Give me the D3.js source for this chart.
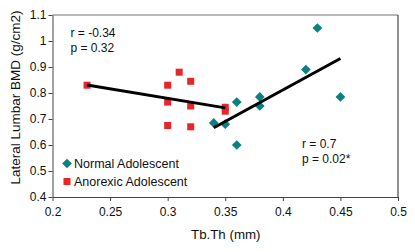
<!DOCTYPE html>
<html>
<head>
<meta charset="utf-8">
<script src="https://cdn.jsdelivr.net/npm/d3@7"></script>
<style>
  body { margin: 0; background: #fff; }
  text { font-family: "Liberation Sans", Arial, sans-serif; fill: #111; }
</style>
</head>
<body>
<div id="chart"></div>
<script>
// Normal adolescents (teal diamonds)
var normalTbTh = [0.43, 0.42, 0.45, 0.38, 0.38, 0.36, 0.34, 0.35, 0.36]
var normalBMD  = [1.05, 0.89, 0.785, 0.785, 0.75, 0.765, 0.685, 0.68, 0.60]

// Anorexic adolescents (red squares)
var anorexicTbTh = [0.23, 0.30, 0.31, 0.32, 0.30, 0.32, 0.30, 0.32, 0.35, 0.35]
var anorexicBMD  = [0.83, 0.83, 0.88, 0.845, 0.765, 0.75, 0.675, 0.67, 0.745, 0.73]

var xTicks = [0.2, 0.25, 0.3, 0.35, 0.4, 0.45, 0.5]
var yTicks = [0.4, 0.5, 0.6, 0.7, 0.8, 0.9, 1, 1.1]

var seriesNames = ["Normal Adolescent", "Anorexic Adolescent"]
var statsNormal = ["r = 0.7", "p = 0.02*"]
var statsAnorexic = ["r = -0.34", "p = 0.32"]

// dimensions
var margin = {top: 15, right: 17, bottom: 55, left: 52.5},
    width = 415 - margin.left - margin.right,
    height = 252 - margin.top - margin.bottom;

var svg = d3.select("#chart")
  .append("svg")
    .attr("width", 415)
    .attr("height", 252)
  .append("g")
    .attr("transform", "translate(" + margin.left + "," + margin.top + ")");

var x = d3.scaleLinear().domain([0.2, 0.5]).range([0, width]);
var y = d3.scaleLinear().domain([0.4, 1.1]).range([height, 0]);

// plot frame: top grey, right dark
svg.append("line")
  .attr("x1", 0).attr("x2", width).attr("y1", 0).attr("y2", 0)
  .style("stroke", "#a0a0a0").style("stroke-width", 1.5);
svg.append("line")
  .attr("x1", width).attr("x2", width).attr("y1", 0).attr("y2", height)
  .style("stroke", "#222").style("stroke-width", 1);

// X axis
var xAxis = svg.append("g")
  .attr("transform", "translate(0," + height + ")")
  .call(d3.axisBottom(x).tickValues(xTicks).tickSize(4).tickSizeOuter(0)
    .tickFormat(function(d) { return d3.format("")(+d.toFixed(2)); }));
xAxis.select(".domain").style("stroke", "#444");
xAxis.selectAll(".tick line").style("stroke", "#444");
xAxis.selectAll("text")
  .attr("y", 10).attr("dy", "0.71em")
  .style("font-size", "12px").style("font-family", "Liberation Sans, Arial, sans-serif");

// Y axis
var yAxis = svg.append("g")
  .call(d3.axisLeft(y).tickValues(yTicks).tickSize(4).tickSizeOuter(0)
    .tickFormat(function(d) { return d3.format("")(+d.toFixed(1)); }));
yAxis.select(".domain").style("stroke", "#444");
yAxis.selectAll(".tick line").style("stroke", "#444");
yAxis.selectAll("text")
  .attr("x", -6)
  .style("font-size", "12px").style("font-family", "Liberation Sans, Arial, sans-serif");

// axis titles
svg.append("text")
  .attr("x", x(0.35) + 0.5)
  .attr("y", height + 42)
  .attr("text-anchor", "middle")
  .style("font-size", "13.3px")
  .text("Tb.Th (mm)");

svg.append("text")
  .attr("transform", "translate(-32.5,82.5)rotate(-90)")
  .attr("text-anchor", "middle")
  .style("font-size", "13.5px")
  .text("Lateral Lumbar BMD (g/cm2)");

// least squares trend line over the data range
function trend(xs, ys) {
  var mx = d3.mean(xs), my = d3.mean(ys);
  var sxy = d3.sum(xs, function(v, i) { return (v - mx) * (ys[i] - my); });
  var sxx = d3.sum(xs, function(v) { return (v - mx) * (v - mx); });
  var b = sxy / sxx, a = my - b * mx;
  var ext = d3.extent(xs);
  return ext.map(function(v) { return [v, a + b * v]; });
}

var line = d3.line()
  .x(function(d) { return x(d[0]); })
  .y(function(d) { return y(d[1]); });

// Anorexic points
svg.selectAll("anorexicpt")
  .data(d3.range(anorexicTbTh.length))
  .enter()
  .append("rect")
    .attr("x", function(i) { return x(anorexicTbTh[i]) - 3.5; })
    .attr("y", function(i) { return y(anorexicBMD[i]) - 3.5; })
    .attr("width", 7)
    .attr("height", 7)
    .attr("fill", "#e8262a");

// Normal points
svg.selectAll("normalpt")
  .data(d3.range(normalTbTh.length))
  .enter()
  .append("path")
    .attr("d", d3.symbol().type(d3.symbolDiamond2).size(60))
    .attr("transform", function(i) {
      return "translate(" + x(normalTbTh[i]) + "," + y(normalBMD[i]) + ")";
    })
    .attr("fill", "#0a8080");

// trend lines
svg.append("path")
  .datum(trend(anorexicTbTh, anorexicBMD))
  .attr("d", line)
  .attr("fill", "none")
  .attr("stroke", "#000")
  .attr("stroke-width", 3);

svg.append("path")
  .datum(trend(normalTbTh, normalBMD))
  .attr("d", line)
  .attr("fill", "none")
  .attr("stroke", "#000")
  .attr("stroke-width", 3);

// stats text
svg.selectAll("statA")
  .data(statsAnorexic)
  .enter()
  .append("text")
    .attr("x", 18)
    .attr("y", function(d, i) { return 22 + i * 14.5; })
    .style("font-size", "12px")
    .text(function(d) { return d; });

svg.selectAll("statN")
  .data(statsNormal)
  .enter()
  .append("text")
    .attr("x", 249.5)
    .attr("y", function(d, i) { return 133 + i * 14.5; })
    .style("font-size", "12px")
    .text(function(d) { return d; });

// legend
var legend = svg.append("g").attr("transform", "translate(14.5,148.5)");
legend.append("path")
  .attr("d", d3.symbol().type(d3.symbolDiamond2).size(60))
  .attr("fill", "#0a8080");
legend.append("rect")
  .attr("x", -3.5).attr("y", 14.5).attr("width", 7).attr("height", 7)
  .attr("fill", "#e8262a");
legend.selectAll("lt")
  .data(seriesNames)
  .enter()
  .append("text")
    .attr("x", 7)
    .attr("y", function(d, i) { return 4.5 + i * 18; })
    .style("font-size", "12.5px")
    .text(function(d) { return d; });
</script>
</body>
</html>
